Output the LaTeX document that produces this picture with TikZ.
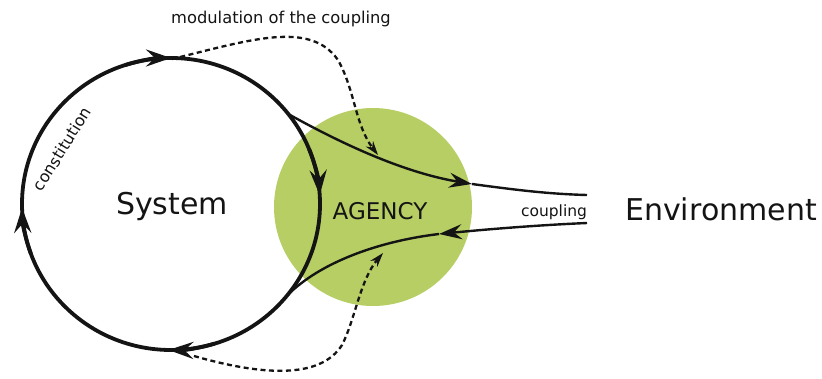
\documentclass[tikz,border=0pt]{standalone}
\usepackage{fontspec}
\setmainfont{DejaVu Sans}
\usetikzlibrary{arrows.meta}
\definecolor{agency}{RGB}{182,206,99}
\definecolor{ink}{RGB}{20,20,20}
\begin{document}
\begin{tikzpicture}[x=1pt,y=1pt,yscale=-1,
  loopline/.style={draw=ink,line width=3.8pt},
  coupleline/.style={draw=ink,line width=2.4pt},
  modline/.style={draw=ink,line width=2.3pt,dash pattern=on 5pt off 3.5pt},
  bigtip/.tip={Stealth[length=25pt,width=17pt,inset=9pt]},
  midtip/.tip={Stealth[length=23pt,width=15pt,inset=8pt]},
  smalltip/.tip={Stealth[length=14pt,width=9pt,inset=4.5pt]},
  lbl/.style={text=ink,inner sep=0pt,anchor=base}]
\useasboundingbox (0,0) rectangle (822,378);
% agency disc
\fill[agency] (373,207) circle[radius=99];
% named points on the system loop (centre 171,204; radii 149,146)
\coordinate (ctr) at (171,204);
\coordinate (bOut) at (288.4,114.1);
\coordinate (bIn) at (286.8,295.9);
% coupling points
\coordinate (outTip) at (472,184);
\coordinate (outEnd) at (587,195);
\coordinate (inStart) at (587,223);
\coordinate (inTip) at (439,234);
% modulation points
\coordinate (mTopS) at (172,59);
\coordinate (mTopE) at (378,155);
\coordinate (mBotS) at (194,356);
\coordinate (mBotE) at (383,253);
% system loop
\draw[loopline] (ctr) ellipse[x radius=149,y radius=146];
\draw[loopline,-{bigtip}] (ctr) ++(-22:149 and 146) arc[start angle=-22,end angle=-3.5,x radius=149,y radius=146];
\draw[loopline,-{bigtip}] (ctr) ++(73:149 and 146) arc[start angle=73,end angle=91,x radius=149,y radius=146];
\draw[loopline,-{bigtip}] (ctr) ++(160:149 and 146) arc[start angle=160,end angle=178.5,x radius=149,y radius=146];
\draw[loopline,-{bigtip}] (ctr) ++(252:149 and 146) arc[start angle=252,end angle=270,x radius=149,y radius=146];
% coupling
\draw[coupleline,-{midtip}] (bOut) .. controls (335,140) and (400,172) .. (outTip);
\draw[coupleline] (outTip) .. controls (520,190.5) and (550,194) .. (outEnd);
\draw[coupleline,-{midtip}] (inStart) .. controls (540,225) and (490,229) .. (inTip);
\draw[coupleline] (inTip) .. controls (380,241) and (320,262) .. (bIn);
% modulation
\draw[modline,-{smalltip}] (mTopS) .. controls (250,40) and (310,20) .. (338,60) .. controls (355,90) and (355,125) .. (mTopE);
\draw[modline,-{smalltip}] (mBotS) .. controls (260,375) and (320,380) .. (342,345) .. controls (355,320) and (360,280) .. (mBotE);
% labels
\node[lbl,font=\fontsize{30}{36}\selectfont] (sys) at (172,214) {System};
\node[lbl,font=\fontsize{30}{36}\selectfont] (env) at (721,220) {Environment};
\node[lbl,font=\fontsize{23}{28}\selectfont] (ag) at (380,219) {AGENCY};
\node[lbl,font=\fontsize{15.5}{19}\selectfont] (cp) at (554,216) {coupling};
\node[lbl,font=\fontsize{16.3}{19}\selectfont] (mod) at (281,23) {modulation of the coupling};
\node[text=ink,inner sep=0pt,rotate=58,font=\fontsize{16}{19}\selectfont] (con) at (62,149) {constitution};
\end{tikzpicture}
\end{document}
